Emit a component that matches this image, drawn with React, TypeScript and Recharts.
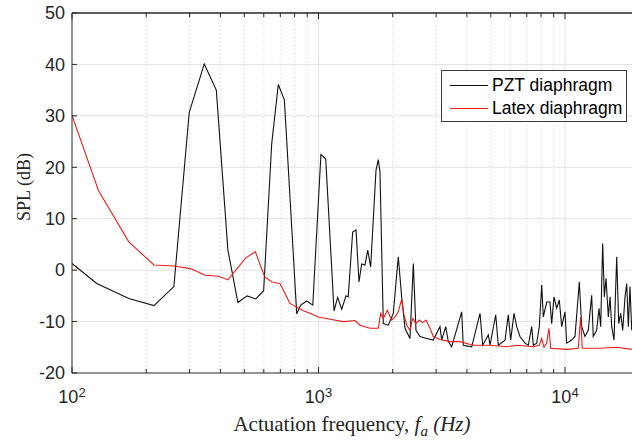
import React from 'react';
import { LineChart, Line, XAxis, YAxis, CartesianGrid, Legend, ReferenceLine } from 'recharts';

// ---------- data ----------
const pztFreq = [
  100, 126, 170, 215, 259, 299, 344, 385, 429, 471, 513, 557, 599, 646, 687, 727,
  816, 847, 896, 948, 1023, 1070, 1156, 1196, 1242, 1293, 1320, 1376, 1420, 1460,
  1497, 1544, 1584, 1628, 1711, 1748, 1776, 1832, 1920, 2011, 2107, 2175, 2244,
  2351, 2425, 2486, 2581, 2748, 2922, 3111, 3161, 3281, 3362, 3471, 3810, 3867,
  4183, 4521, 4637, 4886, 4964, 5235, 5363, 5711, 5888, 6021, 6210, 6369, 6568,
  6882, 7100, 7329, 7439, 7678, 7866, 8045, 8166, 8430, 8693, 8831, 9024, 9254,
  9482, 9696, 10000, 10160, 10650, 10980, 11430, 11690, 12050, 12430, 12830,
  13020, 13440, 13740, 13960, 14220, 14440, 14670, 14990, 15230, 15470, 15810,
  16210, 16520, 16830, 17150, 17520, 17800, 18070, 18350, 18650,
];
const pztSpl = [
  1.3, -2.6, -5.5, -6.9, -3.2, 30.7, 40.1, 35.0, 3.9, -6.3, -5.0, -5.6, -4.0, 24.6, 36.1, 33.1,
  -8.5, -6.8, -6.0, -6.8, 22.5, 21.6, -7.9, -5.3, -7.6, -5.0, -5.2, 7.4, 7.8, -2.3,
  1.2, 1.0, 3.9, 0.6, 19.4, 21.5, 19.1, -10.4, -10.7, -8.4, 2.6, -5.2, -11.3,
  -13.3, 1.3, -11.7, -12.9, -13.3, -13.6, -11.0, -13.6, -11.0, -13.9, -14.9, -8.1, -14.6,
  -14.9, -8.4, -14.6, -12.6, -14.6, -8.7, -14.6, -13.6, -8.7, -13.6, -8.4, -11.0, -12.9,
  -14.2, -14.6, -11.0, -14.6, -14.2, -11.0, -2.9, -9.1, -6.2, -6.2, -10.4, -5.2, -7.4,
  -5.8, -11.0, -8.1, -14.2, -13.6, -12.9, -2.3, -11.0, -12.9, -11.7, -4.9,
  -12.9, -11.7, -7.4, -11.0, 5.2, -5.2, -1.6, -9.1, -5.2, -11.0, -13.6,
  2.6, -10.4, -8.4, -11.7, -5.2, -2.6, -11.0, -3.2, -11.7,
];

const latexFreq = [
  100, 128, 170, 215, 259, 302, 347, 394, 429, 505, 554, 605, 648, 677, 698, 731,
  766, 790, 816, 868, 924, 998, 1131, 1260, 1406, 1474, 1618, 1748, 1788, 1832,
  1902, 1982, 2043, 2107, 2175, 2223, 2280, 2351, 2411, 2486, 2564, 2647, 2730,
  2834, 2922, 3111, 3416, 3750, 4246, 4964, 5800, 6369, 7439, 7866, 8045, 8219,
  8430, 8610, 8750, 10160, 11320, 11580, 11750, 13870, 16210, 18650,
];
const latexSpl = [
  30.1, 15.5, 5.5, 1.0, 0.8, 0.3, -1.0, -1.2, -1.9, 2.3, 3.6, -1.3, -2.3, -2.5, -2.6, -4.5,
  -6.5, -6.8, -7.2, -7.9, -8.4, -9.1, -9.6, -10.0, -9.8, -10.7, -11.3, -11.3, -8.4, -9.4,
  -7.8, -9.7, -9.1, -8.1, -5.7, -8.7, -10.7, -11.7, -9.4, -10.4, -9.7, -10.2, -9.7,
  -11.3, -12.9, -13.5, -13.9, -13.9, -14.6, -14.6, -14.9, -14.6, -14.9, -14.6, -13.3, -15.0,
  -14.2, -11.3, -15.2, -15.4, -15.2, -9.1, -15.2, -15.2, -15.0, -15.4,
];

const majorXTicks = [100, 1000, 10000];
const minorXTicks = [200, 300, 400, 500, 600, 700, 800, 900, 2000, 3000, 4000, 5000, 6000, 7000, 8000, 9000];
const allXTicks = [...majorXTicks, ...minorXTicks].sort((a, b) => a - b);
const yTicks = [-20, -10, 0, 10, 20, 30, 40, 50];
const innerYGrid = [-10, 0, 10, 20, 30, 40];
const xDomain = [100, 18700];
const yDomain = [-20, 50];

const seriesInfo = [
  { name: 'PZT diaphragm', color: '#111111' },
  { name: 'Latex diaphragm', color: '#ee1c1c' },
];

const pztData = pztFreq.map((f, i) => ({ f, spl: pztSpl[i] }));
const latexData = latexFreq.map((f, i) => ({ f, spl: latexSpl[i] }));

const AXIS_COLOR = '#262626';
const SANS = '"Liberation Sans", Arial, Helvetica, sans-serif';
const SERIF = '"Liberation Serif", "Times New Roman", serif';

const BottomTick = (props: any) => {
  const { x, y, payload } = props;
  const v = payload.value;
  const major = majorXTicks.includes(v);
  const exp = Math.round(Math.log10(v));
  return (
    <g>
      <line x1={x} x2={x} y1={y} y2={y - (major ? 6 : 4)} stroke={AXIS_COLOR} strokeWidth={1} />
      {major && (
        <text x={x} y={y + 30} textAnchor="middle" fontFamily={SANS} fontSize={18} fill={AXIS_COLOR}>
          10
          <tspan dy={-6} fontSize={13}>{exp}</tspan>
        </text>
      )}
    </g>
  );
};

const LeftTick = (props: any) => {
  const { x, y, payload } = props;
  return (
    <g>
      <line x1={x} x2={x + 5} y1={y} y2={y} stroke={AXIS_COLOR} strokeWidth={1} />
      <text x={x - 7} y={y} dy="0.35em" textAnchor="end" fontFamily={SANS} fontSize={18} fill={AXIS_COLOR}>
        {payload.value}
      </text>
    </g>
  );
};

const XLabel = (props: any) => {
  const vb = props.viewBox || { x: 72, y: 373, width: 560, height: 74 };
  return (
    <text x={vb.x + vb.width / 2} y={vb.y + 58} textAnchor="middle" fontFamily={SERIF} fontSize={21} fill={AXIS_COLOR}>
      Actuation frequency,{' '}
      <tspan fontStyle="italic">f</tspan>
      <tspan fontStyle="italic" fontSize={15} dy={5}>a</tspan>
      <tspan fontStyle="italic" dy={-5}> (Hz)</tspan>
    </text>
  );
};

const YLabel = (props: any) => {
  const vb = props.viewBox || { x: 0, y: 13, width: 72, height: 360 };
  const cx = vb.x + 24;
  const cy = vb.y + vb.height / 2 - 6;
  return (
    <text
      transform={`translate(${cx},${cy}) rotate(-90)`}
      textAnchor="middle"
      dy="0.35em"
      fontFamily={SERIF}
      fontSize={18}
      fill={AXIS_COLOR}
    >
      SPL (dB)
    </text>
  );
};

const LegendBox = () => (
  <div
    style={{
      position: 'relative',
      width: 186,
      height: 52,
      border: '1px solid #3a3a3a',
      background: '#fff',
      boxSizing: 'border-box',
      fontFamily: SANS,
      fontSize: 17.5,
      color: '#000',
    }}
  >
    {seriesInfo.map((s, i) => (
      <div
        key={s.name}
        style={{
          position: 'absolute',
          left: 8,
          top: 3 + i * 23,
          height: 22,
          display: 'flex',
          alignItems: 'center',
          whiteSpace: 'nowrap',
          lineHeight: '22px',
        }}
      >
        <span style={{ display: 'inline-block', width: 38, height: 0, borderTop: `1px solid ${s.color}`, marginRight: 4 }} />
        <span>{s.name}</span>
      </div>
    ))}
  </div>
);

export default function App() {
  const yMax = yDomain[1];
  return (
    <div style={{ position: 'absolute', left: 0, top: 0, width: 632, height: 447, background: '#fff' }}>
      <LineChart width={632} height={447} margin={{ top: 13, right: 0, bottom: 0, left: 0 }}>
        <CartesianGrid xAxisId="bottom" horizontal vertical={false} horizontalValues={innerYGrid} stroke="#e3e3e3" strokeWidth={1} />
        <CartesianGrid xAxisId="bottom" horizontal={false} vertical verticalValues={[1000, 10000]} stroke="#e3e3e3" strokeWidth={1} />
        <CartesianGrid xAxisId="bottom" horizontal={false} vertical verticalValues={minorXTicks} stroke="#cfcfcf" strokeWidth={1} strokeDasharray="1 3" />
        <XAxis
          xAxisId="bottom"
          dataKey="f"
          type="number"
          scale="log"
          domain={xDomain}
          allowDataOverflow
          ticks={allXTicks}
          interval={0}
          height={74}
          tickSize={0}
          tickMargin={0}
          tickLine={false}
          tick={<BottomTick />}
          axisLine={{ stroke: AXIS_COLOR, strokeWidth: 1 }}
          label={<XLabel />}
        />
        <YAxis
          type="number"
          domain={yDomain}
          allowDataOverflow
          ticks={yTicks}
          interval={0}
          width={72}
          tickSize={0}
          tickMargin={0}
          tickLine={false}
          tick={<LeftTick />}
          axisLine={{ stroke: AXIS_COLOR, strokeWidth: 1 }}
          label={<YLabel />}
        />
        {/* top frame of the axes box with inward tick marks */}
        <ReferenceLine xAxisId="bottom" y={yMax} stroke={AXIS_COLOR} strokeWidth={1.3} ifOverflow="visible" />
        {allXTicks.map((t) => (
          <ReferenceLine
            key={`tt-${t}`}
            xAxisId="bottom"
            segment={[
              { x: t, y: yMax },
              { x: t, y: yMax - (majorXTicks.includes(t) ? 1.2 : 0.8) },
            ]}
            stroke={AXIS_COLOR}
            strokeWidth={1}
            ifOverflow="visible"
          />
        ))}
        <Legend
          layout="vertical"
          align="center"
          verticalAlign="middle"
          wrapperStyle={{ left: 441, top: 70, width: 186, height: 52 }}
          content={() => <LegendBox />}
        />
        <Line
          xAxisId="bottom"
          data={pztData}
          dataKey="spl"
          name={seriesInfo[0].name}
          type="linear"
          stroke={seriesInfo[0].color}
          strokeWidth={1.1}
          dot={false}
          activeDot={false}
          isAnimationActive={false}
        />
        <Line
          xAxisId="bottom"
          data={latexData}
          dataKey="spl"
          name={seriesInfo[1].name}
          type="linear"
          stroke={seriesInfo[1].color}
          strokeWidth={1.1}
          dot={false}
          activeDot={false}
          isAnimationActive={false}
        />
      </LineChart>
    </div>
  );
}
